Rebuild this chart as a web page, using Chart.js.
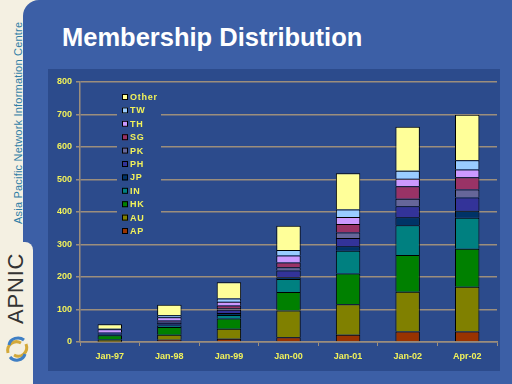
<!DOCTYPE html>
<html>
<head>
<meta charset="utf-8">
<script src="https://cdn.jsdelivr.net/npm/chart.js@4.4.1/dist/chart.umd.min.js"></script>
<style>
  body { margin: 0; width: 512px; height: 384px; overflow: hidden; background: #f4f0e2; position: relative; font-family: "Liberation Sans", Arial, sans-serif; }
  #blue { position: absolute; left: 23px; top: 0; width: 489px; height: 384px; background: #3c5fa6; border-top-left-radius: 16px; }
  #tab { position: absolute; left: 0; top: 242px; width: 33px; height: 142px; background: #f4f0e2; border-top-right-radius: 8px; }
  #title { position: absolute; left: 62px; top: 23px; color: #fff; font-weight: bold; font-size: 25.5px; white-space: nowrap; }
  #panel { position: absolute; left: 48px; top: 69px; width: 452px; height: 302px; background: #2c4b8c; }
  #side { position: absolute; left: 12px; top: 224px; transform-origin: 0 0; transform: rotate(-90deg); color: #2f7ea6; font-size: 11px; line-height: 13px; white-space: nowrap; letter-spacing: 0.2px; }
  #apnic { position: absolute; left: 3px; top: 324px; transform-origin: 0 0; transform: rotate(-90deg); color: #333; font-size: 22px; line-height: 26px; white-space: nowrap; letter-spacing: 0.8px; }
  #logo { position: absolute; left: 4px; top: 335px; }
</style>
</head>
<body>
<div id="blue"></div>
<div id="tab"></div>
<div id="side">Asia Pacific Network Information Centre</div>
<div id="apnic">APNIC</div>
<svg id="logo" width="26" height="28" viewBox="0 0 26 28">
  <path d="M4 18 C2 10 10 4 17 8" stroke="#d3a93a" stroke-width="3" fill="none"/>
  <path d="M22 9 C25 17 17 24 10 20" stroke="#d3a93a" stroke-width="3" fill="none"/>
  <path d="M6 22 C10 27 19 26 21 19" stroke="#3f7fc4" stroke-width="3" fill="none"/>
  <path d="M20 5 C15 1 6 3 5 10" stroke="#3f7fc4" stroke-width="3" fill="none"/>
</svg>
<div id="title">Membership Distribution</div>
<div id="panel"><canvas id="myChart" width="452" height="302"></canvas></div>
<script>
// dates on the x axis
let dates = ["Jan-97", "Jan-98", "Jan-99", "Jan-00", "Jan-01", "Jan-02", "Apr-02"];

// members per economy
let AP = [1, 7, 10, 15, 22, 32, 32];
let AU = [7, 15, 31, 82, 94, 123, 138];
let HK = [13, 24, 31, 57, 95, 113, 117];
let IN = [2, 5, 11, 40, 70, 91, 95];
let JP = [2, 3, 6, 5, 14, 25, 22];
let PH = [2, 5, 10, 21, 25, 34, 41];
let PK = [1, 3, 6, 10, 17, 23, 24];
let SG = [1, 4, 7, 15, 26, 38, 38];
let TH = [10, 10, 12, 21, 22, 23, 24];
let TW = [2, 6, 10, 17, 23, 25, 28];
let Other = [14, 33, 50, 75, 111, 135, 140];

let yTicks = [0, 100, 200, 300, 400, 500, 600, 700, 800];

let series = [
    ["AP", AP, "#993300"],
    ["AU", AU, "#808000"],
    ["HK", HK, "#008000"],
    ["IN", IN, "#008080"],
    ["JP", JP, "#003366"],
    ["PH", PH, "#333399"],
    ["PK", PK, "#666699"],
    ["SG", SG, "#993366"],
    ["TH", TH, "#cc99ff"],
    ["TW", TW, "#99ccff"],
    ["Other", Other, "#ffff99"]
];

let yellow = "#f2f25a";
let gridCol = "#9c8e7c";

// legend drawn inside the plot, top item = last dataset
let boxLegend = {
    id: "boxLegend",
    afterDraw(chart) {
        let ctx = chart.ctx;
        let ds = chart.data.datasets;
        ctx.save();
        ctx.fillStyle = "#2c4b8c";
        ctx.fillRect(117 - 48, 88 - 69, 44, 150);
        ctx.font = "bold 9px 'Liberation Sans', Arial";
        ctx.textBaseline = "middle";
        for (let i = 0; i < ds.length; i++) {
            let d = ds[ds.length - 1 - i];
            let y = 97 - 69 + i * 13.4;
            let x = 122 - 48;
            ctx.fillStyle = d.backgroundColor;
            ctx.fillRect(x, y - 3, 6, 6);
            ctx.strokeStyle = "#000";
            ctx.lineWidth = 1;
            ctx.strokeRect(x + 0.5, y - 2.5, 5, 5);
            ctx.fillStyle = yellow;
            ctx.fillText(d.label.split("").join(String.fromCharCode(8202)), x + 8, y + 0.5);
        }
        ctx.restore();
    }
};

new Chart("myChart", {
    type: "bar",
    data: {
        labels: dates,
        datasets: series.map(s => ({
            label: s[0],
            data: s[1],
            backgroundColor: s[2],
            borderColor: "#000",
            borderWidth: 1,
            categoryPercentage: 1,
            barPercentage: 0.41
        }))
    },
    options: {
        responsive: false,
        animation: false,
        layout: { padding: { top: 13, right: 3 } },
        plugins: { legend: { display: false }, tooltip: { enabled: false } },
        scales: {
            x: {
                stacked: true,
                afterFit: s => { s.height = 29; },
                grid: { offset: true, drawOnChartArea: false, color: gridCol, tickLength: 4, lineWidth: 1 },
                border: { color: gridCol, width: 1.5 },
                ticks: { color: yellow, font: { size: 9, weight: "bold", family: "'Liberation Sans', Arial" }, padding: 5, maxRotation: 0 }
            },
            y: {
                stacked: true,
                min: 0,
                max: 800,
                afterFit: s => { s.width = 32; },
                afterBuildTicks: s => { s.ticks = yTicks.map(v => ({ value: v })); },
                grid: { color: gridCol, tickLength: 4, lineWidth: 1.5 },
                border: { color: gridCol, width: 1.5 },
                ticks: { color: yellow, font: { size: 9, weight: "bold", family: "'Liberation Sans', Arial" }, padding: 4 }
            }
        }
    },
    plugins: [boxLegend]
});
</script>
</body>
</html>
